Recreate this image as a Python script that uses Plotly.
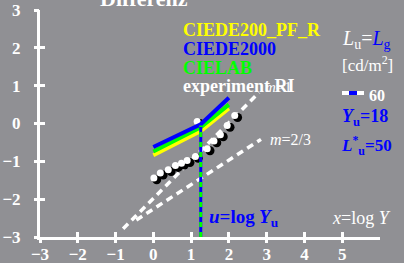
import plotly.graph_objects as go

# ---- data ----
u_val = 1.255  # log10(18)
line_x = [0.0, 1.255, 2.0]
y_yellow = [-0.84, -0.20, 0.40]
y_green = [-0.74, -0.10, 0.50]
y_blue = [-0.62, -0.02, 0.68]

m1_x = [-0.80, 2.80]
m1_y = [-2.78, 0.82]
m23_x = [-0.45, 2.85]
m23_y = [-2.55, -0.42]

exp_x = [0.09, 0.26, 0.47, 0.66, 0.82, 0.97, 1.19, 1.50, 1.68, 1.85, 2.03, 2.23, 1.235]
exp_y = [-1.49, -1.36, -1.27, -1.16, -1.10, -1.03, -0.92, -0.72, -0.51, -0.35, -0.10, 0.16, 0.0]

vert_x = [1.255, 1.255]
vert_y = [-3.0, -0.05]

x_ticks = [-3, -2, -1, 0, 1, 2, 3, 4, 5]
x_tick_labels = ["\u22123", "\u22122", "\u22121", "0", "1", "2", "3", "4", "5"]
y_ticks = [-3, -2, -1, 0, 1, 2, 3]
y_tick_labels = ["\u22123", "\u22122", "\u22121", "0", "1", "2", "3"]

BG = "rgb(144,144,148)"
BLUE = "rgb(0,0,255)"
GREEN = "rgb(0,255,0)"
YELLOW = "rgb(255,255,0)"
FONT = "Liberation Serif"

W, H = 404, 263
L, R, T, B = 40, 24, 10, 26
PW, PH = W - L - R, H - T - B


def px(x):
    return (x - L) / PW


def py(y):
    return (H - B - y) / PH


fig = go.Figure()

for xs, ys in [(m1_x, m1_y), (m23_x, m23_y)]:
    fig.add_trace(go.Scatter(x=xs, y=ys, mode="lines",
                             line=dict(color="white", width=3.5, dash="7px,5px"),
                             hoverinfo="skip", showlegend=False))

# experiment circles (half black / half white)
fig.add_trace(go.Scatter(x=exp_x, y=exp_y, mode="markers",
                         marker=dict(size=9, color="black", line=dict(width=0)),
                         showlegend=False, hoverinfo="skip"))
fig.add_trace(go.Scatter(x=[v - 0.075 for v in exp_x], y=[v + 0.05 for v in exp_y], mode="markers",
                         marker=dict(size=7, color="white", line=dict(width=0)),
                         showlegend=False, hoverinfo="skip"))

for ys, col in [(y_yellow, YELLOW), (y_green, GREEN), (y_blue, BLUE)]:
    fig.add_trace(go.Scatter(x=line_x, y=ys, mode="lines",
                             line=dict(color=col, width=4),
                             showlegend=False, hoverinfo="skip"))

fig.add_trace(go.Scatter(x=vert_x, y=vert_y, mode="lines",
                         line=dict(color=BLUE, width=3),
                         showlegend=False, hoverinfo="skip"))
fig.add_trace(go.Scatter(x=vert_x, y=vert_y, mode="lines",
                         line=dict(color=GREEN, width=3, dash="5px,5px"),
                         showlegend=False, hoverinfo="skip"))

# overlay axes for crossing tick marks
fig.add_trace(go.Scatter(x=[None], y=[None], xaxis="x2", yaxis="y2", showlegend=False))
fig.add_trace(go.Scatter(x=[None], y=[None], xaxis="x3", yaxis="y3", showlegend=False))

tickfont = dict(family=FONT, size=17, color="white", weight="bold")


def tick_axis(rng, vals, side, anchor, kind, overlay):
    return dict(range=rng, overlaying=overlay, anchor=anchor, side=side, tickvals=vals,
                showticklabels=False, showgrid=False, zeroline=False, showline=False,
                automargin=False, ticks=kind, ticklen=5, tickwidth=3, tickcolor="white")


fig.update_layout(
    width=W, height=H,
    margin=dict(l=L, r=R, t=T, b=B, autoexpand=False),
    paper_bgcolor=BG, plot_bgcolor=BG,
    xaxis=dict(range=[-3, 6], tickvals=x_ticks, ticktext=x_tick_labels, showgrid=False,
               zeroline=False, showline=True, linecolor="white", linewidth=3, ticks="",
               automargin=False, tickfont=tickfont, ticklabelstandoff=0),
    yaxis=dict(range=[-3, 3], tickvals=y_ticks, ticktext=y_tick_labels, showgrid=False,
               zeroline=False, showline=True, linecolor="white", linewidth=3, ticks="",
               automargin=False, tickfont=tickfont, ticklabelstandoff=13),
    xaxis2=tick_axis([-3, 6], x_ticks, "bottom", "y", "inside", "x"),
    yaxis2=tick_axis([-3, 3], y_ticks, "left", "x", "inside", "y"),
    xaxis3=tick_axis([-3, 6], x_ticks, "bottom", "y", "outside", "x"),
    yaxis3=tick_axis([-3, 3], y_ticks, "left", "x", "outside", "y"),
    showlegend=False,
)

ann = []


def add(text, x, y, size, color="white", xanchor="left", yanchor="middle", bold=True):
    ann.append(dict(text=text, x=px(x), y=py(y), xref="paper", yref="paper",
                    xanchor=xanchor, yanchor=yanchor, showarrow=False,
                    font=dict(family=FONT, size=size, color=color,
                              weight="bold" if bold else "normal")))


add("Differenz", 144, -2, 22, xanchor="center")
add("CIEDE200_PF_R", 181, 30, 18, YELLOW)
add("CIEDE2000", 181, 48.5, 18, BLUE)
add("CIELAB", 181, 67.5, 18, GREEN)
add("experiment RI", 181, 86, 18, "white")
add("<i>m</i>=1", 263, 87, 15, "white", bold=False)
add("<i>m</i>=2/3", 268, 139, 16, "white", bold=False)
add("<i>L</i><sub>u</sub>=<span style='color:rgb(0,0,255)'><i>L</i><sub>g</sub></span>",
    340, 39, 20, "white", bold=False)
add("[cd/m<sup>2</sup>]", 340, 64, 17, "white", bold=False)
add("60", 367, 95, 16, "white")
add("<i>Y</i><sub>u</sub>=18", 340, 117, 18, BLUE)
add("<i>L</i><sup>*</sup><sub>u</sub>=50", 339, 145, 17, BLUE)
add("<i>u</i>=log<i> Y</i><sub>u</sub>", 207, 218, 19, BLUE)
add("<i>x</i>=log<i> Y</i>", 330, 218, 18, "white", bold=False)

fig.update_layout(annotations=ann)

# small legend dash mark (white-blue-white)
fig.add_shape(type="line", xref="paper", yref="paper", x0=px(342), x1=px(364), y0=py(93), y1=py(93),
              line=dict(color="white", width=4))
fig.add_shape(type="line", xref="paper", yref="paper", x0=px(349), x1=px(357), y0=py(93), y1=py(93),
              line=dict(color=BLUE, width=4))

fig.write_html("out.html", config={"displayModeBar": False},
               post_script="document.body.style.margin='0';document.body.style.padding='0';")
